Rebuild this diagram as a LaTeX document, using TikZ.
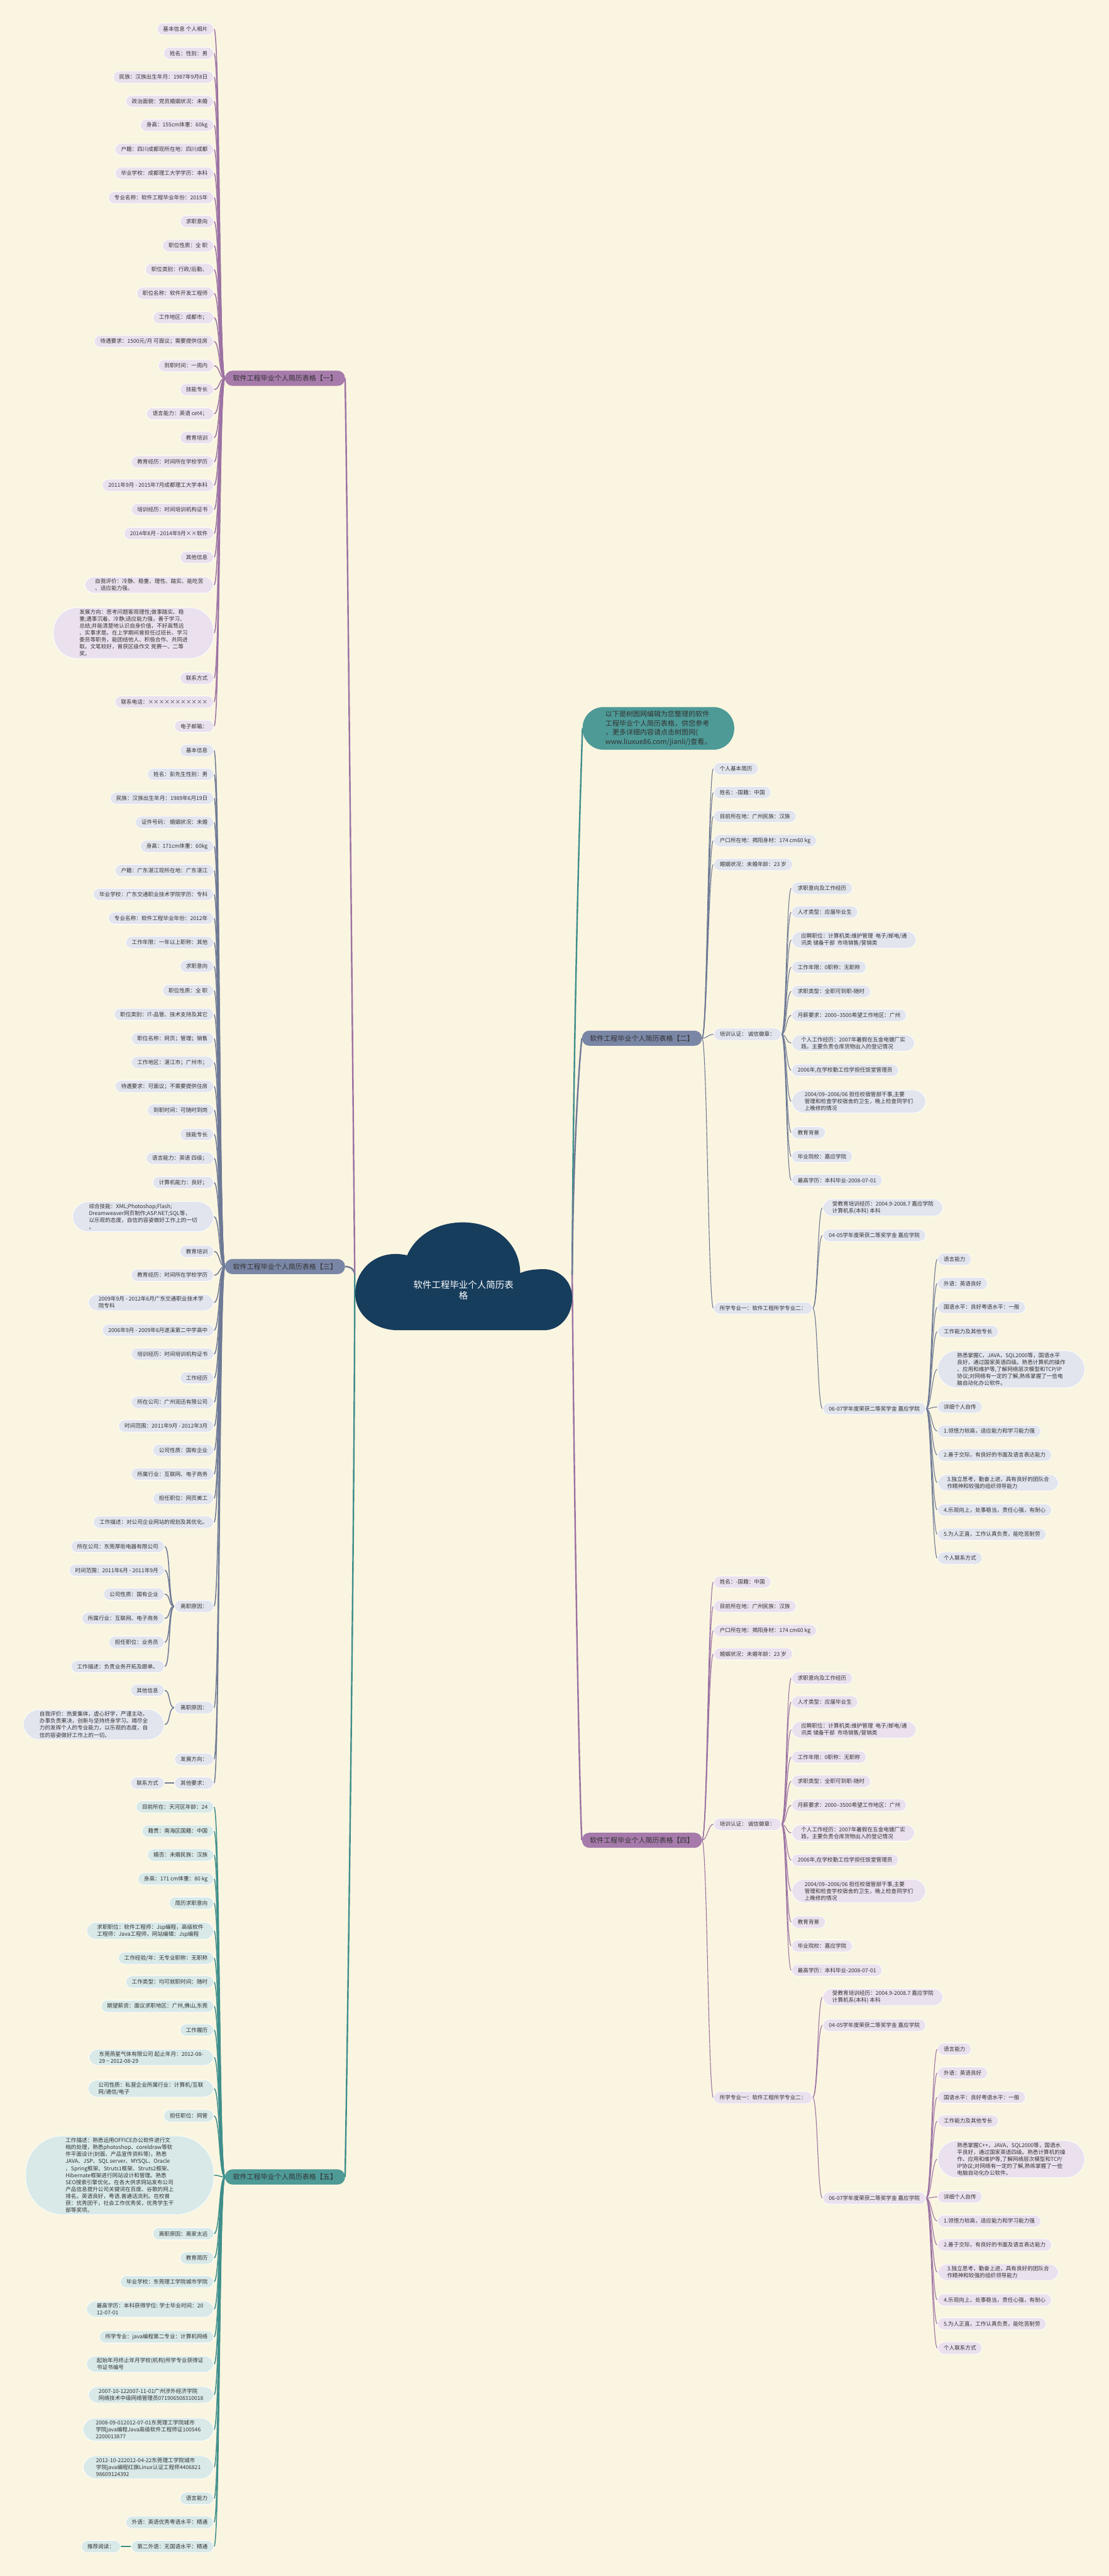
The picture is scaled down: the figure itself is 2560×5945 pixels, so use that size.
\documentclass[tikz,border=0pt]{standalone}
\usepackage{fontspec}
\setmainfont{Noto Sans CJK SC}
\pgfdeclarelayer{back}
\pgfdeclarelayer{lines}
\pgfsetlayers{back,lines,main}
\definecolor{bgc}{HTML}{FAF5E0}
\definecolor{pF}{HTML}{EBE1EE}\definecolor{pL}{HTML}{9C72A3}\definecolor{pB}{HTML}{A67BAB}
\definecolor{sF}{HTML}{E2E5EE}\definecolor{sL}{HTML}{6E7995}\definecolor{sB}{HTML}{7A86A5}
\definecolor{tF}{HTML}{D8E9E8}\definecolor{tL}{HTML}{3F8E8B}\definecolor{tB}{HTML}{4E9A97}
\definecolor{navy}{HTML}{173D5D}
\definecolor{txt}{HTML}{333333}
\tikzset{
 leafbox/.style={rounded corners=14, minimum height=28, inner xsep=14, inner ysep=5,
   font=\fontsize{12.5}{16}\selectfont, align=left, text=txt, line width=1.2, draw=white},
 pleaf/.style={leafbox, fill=pF},
 sleaf/.style={leafbox, fill=sF},
 tleaf/.style={leafbox, fill=tF},
 mline/.style 2 args={rounded corners=#1, inner xsep=#2},
 brnode/.style={rounded corners=17, minimum height=35, minimum width=277, inner xsep=10,
   font=\fontsize{16}{20}\selectfont, text=txt},
 lnP/.style={draw=pL, line width=2.2},
 lnS/.style={draw=sL, line width=2.2},
 lnT/.style={draw=tL, line width=2.2},
 rnP/.style={draw=pL, line width=1.6},
 rnS/.style={draw=sL, line width=1.6},
 mainP/.style={draw=pL, line width=3.5},
 mainS/.style={draw=sL, line width=3.5},
 mainT/.style={draw=tL, line width=3.5},
}
\begin{document}
\begin{tikzpicture}[x=1pt,y=-1pt]
\useasboundingbox (0,0) rectangle (2560,5945);
\begin{pgfonlayer}{back}
\fill[bgc] (0,0) rectangle (2560,5945);
\end{pgfonlayer}

% ---------- centre cloud ----------
\fill[navy] (920,3070) -- (1255,3070)
 .. controls (1295,3070) and (1321,3035) .. (1321,2995)
 .. controls (1321,2955) and (1290,2929) .. (1255,2929)
 .. controls (1230,2929) and (1212,2933) .. (1201,2938)
 .. controls (1200,2870) and (1145,2821) .. (1068,2821)
 .. controls (1000,2821) and (955,2860) .. (940,2897)
 .. controls (930,2895) and (925,2894) .. (912,2894)
 .. controls (860,2894) and (820,2935) .. (820,2985)
 .. controls (820,3035) and (865,3070) .. (920,3070) -- cycle;
\node[font=\fontsize{21}{25}\selectfont, text=white, align=center] (root) at (1070,2977) {软件工程毕业个人简历表\\格};
\coordinate (rootL) at (819,2943);
\coordinate (rootR) at (1321,2943);

% ---------- branch nodes ----------
\node[brnode, fill=pB] (b1) at (658,873) {软件工程毕业个人简历表格【一】};
\node[brnode, fill=sB] (b3) at (658,2923) {软件工程毕业个人简历表格【三】};
\node[brnode, fill=tB] (b5) at (658,5024) {软件工程毕业个人简历表格【五】};
\node[brnode, fill=sB] (b2) at (1482,2396) {软件工程毕业个人简历表格【二】};
\node[brnode, fill=pB] (b4) at (1482,4247) {软件工程毕业个人简历表格【四】};
\node[fill=tB, text=txt, rounded corners=48, inner xsep=46, inner ysep=9, minimum width=350, align=left,
  font=\fontsize{16}{21}\selectfont] (note) at (1520,1681)
  {以下是树图网编辑为您整理的软件\\工程毕业个人简历表格，供您参考\\，更多详细内容请点击树图网(\\www.liuxue86.com/jianli/)查看。};

% ---------- branch 1 leaves ----------
\node[pleaf,anchor=east] (p1) at (494,67) {基本信息 个人相片};
\node[pleaf,anchor=east] (p2) at (494,123) {姓名：性别：男};
\node[pleaf,anchor=east] (p3) at (494,178) {民族：汉族出生年月：1987年9月8日};
\node[pleaf,anchor=east] (p4) at (494,234) {政治面貌：党员婚姻状况：未婚};
\node[pleaf,anchor=east] (p5) at (494,289) {身高：155cm体重：60kg};
\node[pleaf,anchor=east] (p6) at (494,345) {户籍：四川成都现所在地：四川成都};
\node[pleaf,anchor=east] (p7) at (494,400) {毕业学校：成都理工大学学历：本科};
\node[pleaf,anchor=east] (p8) at (494,456) {专业名称：软件工程毕业年份：2015年};
\node[pleaf,anchor=east] (p9) at (494,511) {求职意向};
\node[pleaf,anchor=east] (p10) at (494,567) {职位性质：全 职};
\node[pleaf,anchor=east] (p11) at (494,622) {职位类别：行政/后勤、};
\node[pleaf,anchor=east] (p12) at (494,677) {职位名称：软件开发工程师};
\node[pleaf,anchor=east] (p13) at (494,733) {工作地区：成都市；};
\node[pleaf,anchor=east] (p14) at (494,788) {待遇要求：1500元/月 可面议；需要提供住房};
\node[pleaf,anchor=east] (p15) at (494,844) {到职时间：一周内};
\node[pleaf,anchor=east] (p16) at (494,899) {技能专长};
\node[pleaf,anchor=east] (p17) at (494,955) {语言能力：英语 cet4；};
\node[pleaf,anchor=east] (p18) at (494,1010) {教育培训};
\node[pleaf,anchor=east] (p19) at (494,1066) {教育经历：时间所在学校学历};
\node[pleaf,anchor=east] (p20) at (494,1120) {2011年9月 - 2015年7月成都理工大学本科};
\node[pleaf,anchor=east] (p21) at (494,1176) {培训经历：时间培训机构证书};
\node[pleaf,anchor=east] (p22) at (494,1231) {2014年8月 - 2014年9月××软件};
\node[pleaf,anchor=east] (p23) at (494,1286) {其他信息};
\node[pleaf,mline={22}{24},anchor=east] (p24) at (494,1350) {自我评价：冷静、稳重、理性、踏实、能吃苦\\、适应能力强。};
\node[pleaf,mline={55}{60},anchor=east] (p25) at (494,1461) {发展方向：思考问题客观理性;做事踏实、稳\\重;遇事沉着、冷静;适应能力强，善于学习、\\总结;并能清楚地认识自身价值，不好高骛远\\、实事求是。在上学期间曾担任过班长、学习\\委员等职务，能团结他人、积极合作、共同进\\取。文笔较好，曾获区级作文 竞赛一、二等\\奖。};
\node[pleaf,anchor=east] (p26) at (494,1565) {联系方式};
\node[pleaf,anchor=east] (p27) at (494,1620) {联系电话：×××××××××××};
\node[pleaf,anchor=east] (p28) at (494,1676) {电子邮箱：};

% ---------- branch 3 leaves ----------
\node[sleaf,anchor=east] (s1) at (494,1732) {基本信息};
\node[sleaf,anchor=east] (s2) at (494,1787) {姓名：彭先生性别：男};
\node[sleaf,anchor=east] (s3) at (494,1842) {民族：汉族出生年月：1989年6月19日};
\node[sleaf,anchor=east] (s4) at (494,1898) {证件号码： 婚姻状况：未婚};
\node[sleaf,anchor=east] (s5) at (494,1953) {身高：171cm体重：60kg};
\node[sleaf,anchor=east] (s6) at (494,2009) {户籍：广东湛江现所在地：广东湛江};
\node[sleaf,anchor=east] (s7) at (494,2064) {毕业学校：广东交通职业技术学院学历：专科};
\node[sleaf,anchor=east] (s8) at (494,2119) {专业名称：软件工程毕业年份：2012年};
\node[sleaf,anchor=east] (s9) at (494,2175) {工作年限：一年以上职称：其他};
\node[sleaf,anchor=east] (s10) at (494,2230) {求职意向};
\node[sleaf,anchor=east] (s11) at (494,2286) {职位性质：全 职};
\node[sleaf,anchor=east] (s12) at (494,2341) {职位类别：IT-品管、技术支持及其它};
\node[sleaf,anchor=east] (s13) at (494,2397) {职位名称：网页；管理；销售};
\node[sleaf,anchor=east] (s14) at (494,2452) {工作地区：湛江市；广州市；};
\node[sleaf,anchor=east] (s15) at (494,2507) {待遇要求：可面议；不需要提供住房};
\node[sleaf,anchor=east] (s16) at (494,2562) {到职时间：可随时到岗};
\node[sleaf,anchor=east] (s17) at (494,2618) {技能专长};
\node[sleaf,anchor=east] (s18) at (494,2673) {语言能力：英语 四级；};
\node[sleaf,anchor=east] (s19) at (494,2729) {计算机能力：良好；};
\node[sleaf,mline={36}{38},anchor=east] (s20) at (494,2808) {综合技能：XML;Photoshop;Flash;\\Dreamweaver网页制作;ASP.NET;SQL等，\\以乐观的态度，自信的容姿做好工作上的一切\\。};
\node[sleaf,anchor=east] (s21) at (494,2888) {教育培训};
\node[sleaf,anchor=east] (s22) at (494,2943) {教育经历：时间所在学校学历};
\node[sleaf,mline={21}{24},anchor=east] (s23) at (494,3006) {2009年9月 - 2012年6月广东交通职业技术学\\院专科};
\node[sleaf,anchor=east] (s24) at (494,3070) {2006年9月 - 2009年6月遂溪第二中学高中};
\node[sleaf,anchor=east] (s25) at (494,3125) {培训经历：时间培训机构证书};
\node[sleaf,anchor=east] (s26) at (494,3180) {工作经历};
\node[sleaf,anchor=east] (s27) at (494,3236) {所在公司：广州润迅有限公司};
\node[sleaf,anchor=east] (s28) at (494,3291) {时间范围：2011年9月 - 2012年3月};
\node[sleaf,anchor=east] (s29) at (494,3347) {公司性质：国有企业};
\node[sleaf,anchor=east] (s30) at (494,3402) {所属行业：互联网、电子商务};
\node[sleaf,anchor=east] (s31) at (494,3458) {担任职位：网页美工};
\node[sleaf,anchor=east] (s32) at (494,3513) {工作描述：对公司企业网站的规划及其优化。};
\node[sleaf,anchor=east] (s33) at (494,3707) {离职原因：};
\node[sleaf,anchor=east] (s34) at (494,3941) {离职原因：};
\node[sleaf,anchor=east] (s35) at (494,4060) {发展方向：};
\node[sleaf,anchor=east] (s36) at (494,4115) {其他要求：};
\node[sleaf,anchor=east] (r1) at (380,3569) {所在公司：东莞厚街电器有限公司};
\node[sleaf,anchor=east] (r2) at (380,3624) {时间范围：2011年6月 - 2011年9月};
\node[sleaf,anchor=east] (r3) at (380,3679) {公司性质：国有企业};
\node[sleaf,anchor=east] (r4) at (380,3735) {所属行业：互联网、电子商务};
\node[sleaf,anchor=east] (r5) at (380,3790) {担任职位：业务员};
\node[sleaf,anchor=east] (r6) at (380,3846) {工作描述：负责业务开拓及跟单。};
\node[sleaf,anchor=east] (q1) at (380,3901) {其他信息};
\node[sleaf,mline={37}{38},anchor=east] (q2) at (380,3980) {自我评价：热爱集体，虚心好学，严谨主动，\\办事负责果决，创新与坚持终身学习。竭尽全\\力的发挥个人的专业能力，以乐观的态度，自\\信的容姿做好工作上的一切。};
\node[sleaf,anchor=east] (k1) at (380,4115) {联系方式};

% ---------- branch 5 leaves ----------
\node[tleaf,anchor=east] (t1) at (494,4170) {目前所在：天河区年龄：24};
\node[tleaf,anchor=east] (t2) at (494,4226) {籍贯：南海区国籍：中国};
\node[tleaf,anchor=east] (t3) at (494,4281) {婚否：未婚民族：汉族};
\node[tleaf,anchor=east] (t4) at (494,4336) {身高：171 cm体重：80 kg};
\node[tleaf,anchor=east] (t5) at (494,4392) {简历求职意向};
\node[tleaf,mline={21}{24},anchor=east] (t6) at (494,4456) {求职职位：软件工程师：Jsp编程，高级软件\\工程师：Java工程师，网站编辑：Jsp编程};
\node[tleaf,anchor=east] (t7) at (494,4519) {工作经验/年：无专业职称：无职称};
\node[tleaf,anchor=east] (t8) at (494,4574) {工作类型：均可就职时间：随时};
\node[tleaf,anchor=east] (t9) at (494,4630) {期望薪资：面议求职地区：广州,佛山,东莞};
\node[tleaf,anchor=east] (t10) at (494,4685) {工作履历};
\node[tleaf,mline={21}{24},anchor=east] (t11) at (494,4748) {东莞燕星气体有限公司 起止年月：2012-08-\\29 \textasciitilde{} 2012-08-29};
\node[tleaf,mline={21}{24},anchor=east] (t12) at (494,4820) {公司性质：私营企业所属行业：计算机/互联\\网/通信/电子};
\node[tleaf,anchor=east] (t13) at (494,4883) {担任职位：网管};
\node[tleaf,mline={85}{92},anchor=east] (t14) at (494,5020) {工作描述：熟悉运用OFFICE办公软件进行文\\档的处理，熟悉photoshop、coreldraw等软\\件平面设计(封面、产品宣传资料等)，熟悉\\JAVA、JSP、SQL server、MYSQL、Oracle\\、Spring框架、Struts1框架、Struts2框架、\\Hibernate框架进行网站设计和管理。熟悉\\SEO搜索引擎优化。在各大供求网站发布公司\\产品信息提升公司关键词在百度、谷歌的网上\\排名。英语良好，粤语.普通话流利。在校曾\\获：优秀团干，社会工作优秀奖，优秀学生干\\部等奖项。};
\node[tleaf,anchor=east] (t15) at (494,5155) {离职原因：离家太远};
\node[tleaf,anchor=east] (t16) at (494,5211) {教育简历};
\node[tleaf,anchor=east] (t17) at (494,5266) {毕业学校：东莞理工学院城市学院};
\node[tleaf,mline={21}{24},anchor=east] (t18) at (494,5329) {最高学历：本科获得学位: 学士毕业时间：20\\12-07-01};
\node[tleaf,anchor=east] (t19) at (494,5393) {所学专业：java编程第二专业：计算机网络};
\node[tleaf,mline={21}{24},anchor=east] (t20) at (494,5456) {起始年月终止年月学校(机构)所学专业获得证\\书证书编号};
\node[tleaf,mline={21}{24},anchor=east] (t21) at (494,5527) {2007-10-122007-11-01广州涉外经济学院\\网络技术中级网络管理员071906508310018};
\node[tleaf,mline={29}{30},anchor=east] (t22) at (494,5607) {2008-09-012012-07-01东莞理工学院城市\\学院java编程Java高级软件工程师证100546\\2200013877};
\node[tleaf,mline={29}{30},anchor=east] (t23) at (494,5694) {2012-10-222012-04-22东莞理工学院城市\\学院java编程红旗Linux认证工程师4406821\\98609124392};
\node[tleaf,anchor=east] (t24) at (494,5766) {语言能力};
\node[tleaf,anchor=east] (t25) at (494,5821) {外语：英语优秀粤语水平：精通};
\node[tleaf,anchor=east] (t26) at (494,5877) {第二外语：无国语水平：精通};
\node[tleaf,anchor=east] (rd) at (279,5877) {推荐阅读：};

% ---------- branch 2 (right) ----------
\node[sleaf,anchor=west] (e1) at (1647,1774) {个人基本简历};
\node[sleaf,anchor=west] (e2) at (1647,1829) {姓名：-国籍：中国};
\node[sleaf,anchor=west] (e3) at (1647,1884) {目前所在地：广州民族：汉族};
\node[sleaf,anchor=west] (e4) at (1647,1940) {户口所在地：揭阳身材：174 cm60 kg};
\node[sleaf,anchor=west] (e5) at (1647,1995) {婚姻状况：未婚年龄：23 岁};
\node[sleaf,anchor=west] (e6) at (1647,2387) {培训认证： 诚信徽章：};
\node[sleaf,anchor=west] (e7) at (1647,3019) {所学专业一：软件工程所学专业二：};
\node[sleaf,anchor=west] (f1) at (1827,2050) {求职意向及工作经历};
\node[sleaf,anchor=west] (f2) at (1827,2105) {人才类型：应届毕业生};
\node[sleaf,mline={21}{22},anchor=west] (f3) at (1827,2169) {应聘职位：计算机类:维护管理\ \ 电子/邮电/通\\讯类 储备干部\ \ 市场销售/营销类};
\node[sleaf,anchor=west] (f4) at (1827,2232) {工作年限：0职称：无职称};
\node[sleaf,anchor=west] (f5) at (1827,2288) {求职类型：全职可到职-随时};
\node[sleaf,anchor=west] (f6) at (1827,2343) {月薪要求：2000--3500希望工作地区：广州};
\node[sleaf,mline={21}{22},anchor=west] (f7) at (1827,2407) {个人工作经历：2007年暑假在五金电镀厂实\\践，主要负责仓库货物出入的登记情况};
\node[sleaf,anchor=west] (f8) at (1827,2470) {2006年,在学校勤工俭学担任饭堂管理员};
\node[sleaf,mline={29}{30},anchor=west] (f9) at (1827,2542) {2004/09--2006/06 担任校宿管部干事,主要\\管理和检查学校宿舍的卫生，晚上检查同学们\\上晚修的情况};
\node[sleaf,anchor=west] (f10) at (1827,2614) {教育背景};
\node[sleaf,anchor=west] (f11) at (1827,2669) {毕业院校：嘉应学院};
\node[sleaf,anchor=west] (f12) at (1827,2724) {最高学历：本科毕业-2008-07-01};
\node[sleaf,mline={21}{22},anchor=west] (g1) at (1899,2787) {受教育培训经历：2004.9-2008.7 嘉应学院\\计算机系(本科) 本科};
\node[sleaf,anchor=west] (g2) at (1899,2851) {04-05学年度荣获二等奖学金 嘉应学院};
\node[sleaf,anchor=west] (g3) at (1899,3251) {06-07学年度荣获二等奖学金 嘉应学院};
\node[sleaf,anchor=west] (h1) at (2164,2906) {语言能力};
\node[sleaf,anchor=west] (h2) at (2164,2962) {外语：英语良好};
\node[sleaf,anchor=west] (h3) at (2164,3017) {国语水平：良好粤语水平：一般};
\node[sleaf,anchor=west] (h4) at (2164,3073) {工作能力及其他专长};
\node[sleaf,mline={44}{45},anchor=west] (h5) at (2164,3160) {熟悉掌握C，JAVA，SQL2000等，国语水平\\良好，通过国家英语四级。熟悉计算机的操作\\、应用和维护等,了解网络层次模型和TCP/IP\\协议;对网络有一定的了解,熟练掌握了一些电\\脑自动化办公软件。};
\node[sleaf,anchor=west] (h6) at (2164,3247) {详细个人自传};
\node[sleaf,anchor=west] (h7) at (2164,3303) {1.领悟力较高，适应能力和学习能力强};
\node[sleaf,anchor=west] (h8) at (2164,3358) {2.善于交际，有良好的书面及语言表达能力};
\node[sleaf,mline={21}{22},anchor=west] (h9) at (2164,3422) {3.独立思考，勤奋上进，具有良好的团队合\\作精神和较强的组织领导能力};
\node[sleaf,anchor=west] (h10) at (2164,3485) {4.乐观向上，处事稳当，责任心强，有耐心};
\node[sleaf,anchor=west] (h11) at (2164,3541) {5.为人正直，工作认真负责，能吃苦耐劳};
\node[sleaf,anchor=west] (h12) at (2164,3596) {个人联系方式};

% ---------- branch 4 (right) ----------
\node[pleaf,anchor=west] (u1) at (1647,3651) {姓名：-国籍：中国};
\node[pleaf,anchor=west] (u2) at (1647,3707) {目前所在地：广州民族：汉族};
\node[pleaf,anchor=west] (u3) at (1647,3763) {户口所在地：揭阳身材：174 cm60 kg};
\node[pleaf,anchor=west] (u4) at (1647,3817) {婚姻状况：未婚年龄：23 岁};
\node[pleaf,anchor=west] (u5) at (1647,4210) {培训认证： 诚信徽章：};
\node[pleaf,anchor=west] (u6) at (1647,4841) {所学专业一：软件工程所学专业二：};
\node[pleaf,anchor=west] (v1) at (1827,3873) {求职意向及工作经历};
\node[pleaf,anchor=west] (v2) at (1827,3928) {人才类型：应届毕业生};
\node[pleaf,mline={21}{22},anchor=west] (v3) at (1827,3992) {应聘职位：计算机类:维护管理\ \ 电子/邮电/通\\讯类 储备干部\ \ 市场销售/营销类};
\node[pleaf,anchor=west] (v4) at (1827,4055) {工作年限：0职称：无职称};
\node[pleaf,anchor=west] (v5) at (1827,4111) {求职类型：全职可到职-随时};
\node[pleaf,anchor=west] (v6) at (1827,4166) {月薪要求：2000--3500希望工作地区：广州};
\node[pleaf,mline={21}{22},anchor=west] (v7) at (1827,4230) {个人工作经历：2007年暑假在五金电镀厂实\\践，主要负责仓库货物出入的登记情况};
\node[pleaf,anchor=west] (v8) at (1827,4293) {2006年,在学校勤工俭学担任饭堂管理员};
\node[pleaf,mline={29}{30},anchor=west] (v9) at (1827,4364) {2004/09--2006/06 担任校宿管部干事,主要\\管理和检查学校宿舍的卫生，晚上检查同学们\\上晚修的情况};
\node[pleaf,anchor=west] (v10) at (1827,4436) {教育背景};
\node[pleaf,anchor=west] (v11) at (1827,4491) {毕业院校：嘉应学院};
\node[pleaf,anchor=west] (v12) at (1827,4547) {最高学历：本科毕业-2008-07-01};
\node[pleaf,mline={21}{22},anchor=west] (w1) at (1899,4609) {受教育培训经历：2004.9-2008.7 嘉应学院\\计算机系(本科) 本科};
\node[pleaf,anchor=west] (w2) at (1899,4674) {04-05学年度荣获二等奖学金 嘉应学院};
\node[pleaf,anchor=west] (w3) at (1899,5073) {06-07学年度荣获二等奖学金 嘉应学院};
\node[pleaf,anchor=west] (x1) at (2164,4729) {语言能力};
\node[pleaf,anchor=west] (x2) at (2164,4784) {外语：英语良好};
\node[pleaf,anchor=west] (x3) at (2164,4840) {国语水平：良好粤语水平：一般};
\node[pleaf,anchor=west] (x4) at (2164,4895) {工作能力及其他专长};
\node[pleaf,mline={44}{45},anchor=west] (x5) at (2164,4983) {熟悉掌握C++，JAVA，SQL2000等，国语水\\平良好，通过国家英语四级。熟悉计算机的操\\作、应用和维护等,了解网络层次模型和TCP/\\IP协议;对网络有一定的了解,熟练掌握了一些\\电脑自动化办公软件。};
\node[pleaf,anchor=west] (x6) at (2164,5070) {详细个人自传};
\node[pleaf,anchor=west] (x7) at (2164,5126) {1.领悟力较高，适应能力和学习能力强};
\node[pleaf,anchor=west] (x8) at (2164,5181) {2.善于交际，有良好的书面及语言表达能力};
\node[pleaf,mline={21}{22},anchor=west] (x9) at (2164,5244) {3.独立思考，勤奋上进，具有良好的团队合\\作精神和较强的组织领导能力};
\node[pleaf,anchor=west] (x10) at (2164,5308) {4.乐观向上，处事稳当，责任心强，有耐心};
\node[pleaf,anchor=west] (x11) at (2164,5363) {5.为人正直，工作认真负责，能吃苦耐劳};
\node[pleaf,anchor=west] (x12) at (2164,5419) {个人联系方式};

% ---------- connectors ----------
\begin{pgfonlayer}{lines}
\draw[mainP] (rootL) .. controls (812,2200) and (801,1100) .. (b1.east);
\draw[mainS] (b3.east) .. controls +(14,0) and +(0,-12) .. (rootL);
\draw[mainT] (rootL) .. controls (818,3600) and (801,4800) .. (b5.east);
\draw[mainT] (rootR) .. controls (1324,2300) and (1342,1760) .. (note.west);
\draw[mainS] (rootR) .. controls (1323,2650) and (1338,2440) .. (b2.west);
\draw[mainP] (rootR) .. controls (1328,3700) and (1340,4200) .. (b4.west);

\foreach \i in {1,...,28} \draw[lnP] (b1.west) .. controls +(-14,0) and +(14,0) .. (p\i.east);
\foreach \i in {1,...,36} \draw[lnS] (b3.west) .. controls +(-14,0) and +(14,0) .. (s\i.east);
\foreach \i in {1,...,6} \draw[lnS] (s33.west) .. controls +(-14,0) and +(14,0) .. (r\i.east);
\foreach \i in {1,2} \draw[lnS] (s34.west) .. controls +(-14,0) and +(14,0) .. (q\i.east);
\draw[lnS] (s36.west) -- (k1.east);
\foreach \i in {1,...,26} \draw[lnT] (b5.west) .. controls +(-14,0) and +(14,0) .. (t\i.east);
\draw[lnT] (t26.west) -- (rd.east);

\foreach \i in {1,...,7} \draw[rnS] (b2.east) .. controls +(12,0) and +(-12,0) .. (e\i.west);
\foreach \i in {1,...,12} \draw[rnS] (e6.east) .. controls +(12,0) and +(-12,0) .. (f\i.west);
\foreach \i in {1,2,3} \draw[rnS] (e7.east) .. controls +(12,0) and +(-12,0) .. (g\i.west);
\foreach \i in {1,...,12} \draw[rnS] (g3.east) .. controls +(12,0) and +(-12,0) .. (h\i.west);

\foreach \i in {1,...,6} \draw[rnP] (b4.east) .. controls +(12,0) and +(-12,0) .. (u\i.west);
\foreach \i in {1,...,12} \draw[rnP] (u5.east) .. controls +(12,0) and +(-12,0) .. (v\i.west);
\foreach \i in {1,2,3} \draw[rnP] (u6.east) .. controls +(12,0) and +(-12,0) .. (w\i.west);
\foreach \i in {1,...,12} \draw[rnP] (w3.east) .. controls +(12,0) and +(-12,0) .. (x\i.west);
\end{pgfonlayer}
\end{tikzpicture}
\end{document}
